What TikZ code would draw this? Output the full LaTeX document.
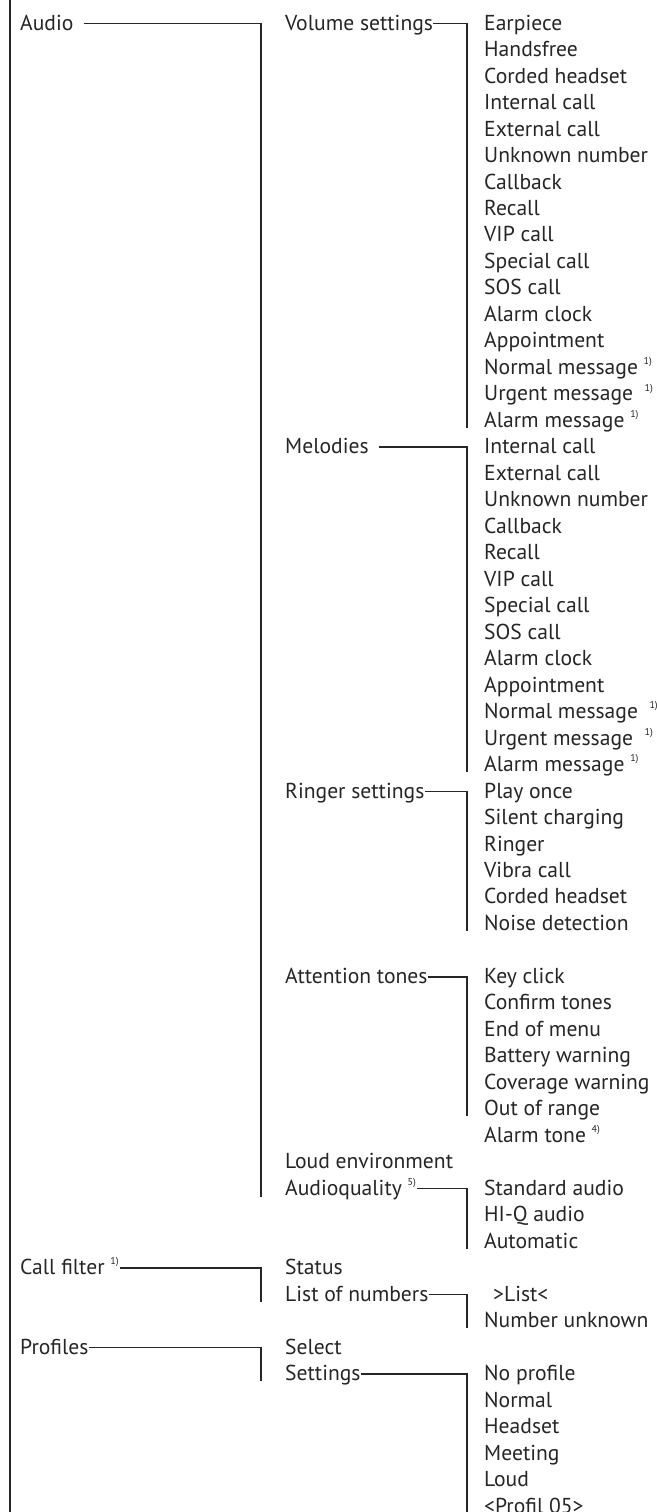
\documentclass[tikz,border=0pt]{standalone}
\usepackage{fontspec}
\setmainfont{PT Sans}
\newcommand\fnote[1]{\raisebox{0.45em}{\fontsize{10}{10}\selectfont #1}}
\definecolor{txt}{HTML}{262626}
\definecolor{ln}{HTML}{262626}
\tikzset{
  item/.style={anchor=base west, inner sep=0pt, text=txt, font=\fontsize{21.6}{24}\selectfont},
  conn/.style={draw=ln, line width=1.5pt},
}
\begin{document}
\begin{tikzpicture}
\useasboundingbox (0pt,0pt) rectangle (656pt,-1512pt);
\fill[white] (0pt,0pt) rectangle (656pt,-1512pt);
\draw[conn, line width=1.8pt] (10pt,0pt) -- (10pt,-1512pt);
\begin{scope}[x=1pt, y=-26.48pt, yshift=-23.5pt]
% column 1
\node[item] (audio) at (20,0.25) {Audio};
\node[item] (callfilter) at (20,47.25) {Call filter \fnote{1)}};
\node[item] (profiles) at (20,50.25) {Profiles};
% column 2
\node[item] (vol) at (285,0.25) {Volume settings};
\node[item] (mel) at (285,16.25) {Melodies};
\node[item] (ring) at (285,29.25) {Ringer settings};
\node[item] (att) at (285,36.25) {Attention tones};
\node[item] (loud) at (285,43.25) {Loud environment};
\node[item] (aq) at (285,44.25) {Audioquality \fnote{5)}};
\node[item] (status) at (285,47.25) {Status};
\node[item] (list) at (285,48.25) {List of numbers};
\node[item] (select) at (285,50.25) {Select};
\node[item] (settings) at (285,51.25) {Settings};
% column 3 : volume settings
\foreach \t [count=\k from 0] in {Earpiece,Handsfree,Corded headset,Internal call,External call,Unknown number,Callback,Recall,VIP call,Special call,SOS call,Alarm clock,Appointment}
  \node[item] (v\k) at (484,\k+0.25) {\t};
\node[item] (v13) at (484,13.25) {Normal message \fnote{1)}};
\node[item] (v14) at (484,14.25) {Urgent message \ \fnote{1)}};
\node[item] (v15) at (484,15.25) {Alarm message \fnote{1)}};
% melodies
\foreach \t [count=\k from 0] in {Internal call,External call,Unknown number,Callback,Recall,VIP call,Special call,SOS call,Alarm clock,Appointment}
  \node[item] (m\k) at (484,\k+16.25) {\t};
\node[item] (m10) at (484,26.25) {Normal message \ \fnote{1)}};
\node[item] (m11) at (484,27.25) {Urgent message \ \fnote{1)}};
\node[item] (m12) at (484,28.25) {Alarm message \fnote{1)}};
% ringer settings
\foreach \t [count=\k from 0] in {Play once,Silent charging,Ringer,Vibra call,Corded headset,Noise detection}
  \node[item] (r\k) at (484,\k+29.25) {\t};
% attention tones
\foreach \t [count=\k from 0] in {Key click,Confirm tones,End of menu,Battery warning,Coverage warning,Out of range}
  \node[item] (a\k) at (484,\k+36.25) {\t};
\node[item] (a6) at (484,42.25) {Alarm tone \fnote{4)}};
% audioquality
\foreach \t [count=\k from 0] in {Standard audio,HI-Q audio,Automatic}
  \node[item] (q\k) at (484,\k+44.25) {\t};
% list of numbers
\node[item] (l0) at (493,48.25) {>List<};
\node[item] (l1) at (484,49.25) {Number unknown};
% profile settings
\foreach \t [count=\k from 0] in {No profile,Normal,Headset,Meeting,Loud,<Profil 05>}
  \node[item] (p\k) at (484,\k+51.25) {\t};
% connector ends
\coordinate (audioEnd) at (261,44.3);
\coordinate (volEnd) at (467,15.27);
\coordinate (melEnd) at (467,28.27);
\coordinate (ringEnd) at (467,34.27);
\coordinate (attEnd) at (467,41.25);
\coordinate (aqEnd) at (467,46.27);
\coordinate (cfEnd) at (261,48.27);
\coordinate (listEnd) at (467,49.27);
\coordinate (profEnd) at (261,51.27);
\coordinate (setEnd) at (467,56.4);
\end{scope}
\draw[conn] ([shift={(10pt,6.6pt)}]audio.base east) -| (audioEnd);
\draw[conn] ([shift={(0pt,6.6pt)}]vol.base east) -| (volEnd);
\draw[conn] ([shift={(10pt,6.6pt)}]mel.base east) -| (melEnd);
\draw[conn] ([shift={(0pt,6.6pt)}]ring.base east) -| (ringEnd);
\draw[conn] ([shift={(0pt,6.6pt)}]att.base east) -| (attEnd);
\draw[conn] ([shift={(1pt,6.6pt)}]aq.base east) -| (aqEnd);
\draw[conn] ([shift={(1pt,6.6pt)}]callfilter.base east) -| (cfEnd);
\draw[conn] ([shift={(0pt,6.6pt)}]list.base east) -| (listEnd);
\draw[conn] ([shift={(0pt,6.6pt)}]profiles.base east) -| (profEnd);
\draw[conn] ([shift={(0pt,6.6pt)}]settings.base east) -| (setEnd);
\end{tikzpicture}
\end{document}
